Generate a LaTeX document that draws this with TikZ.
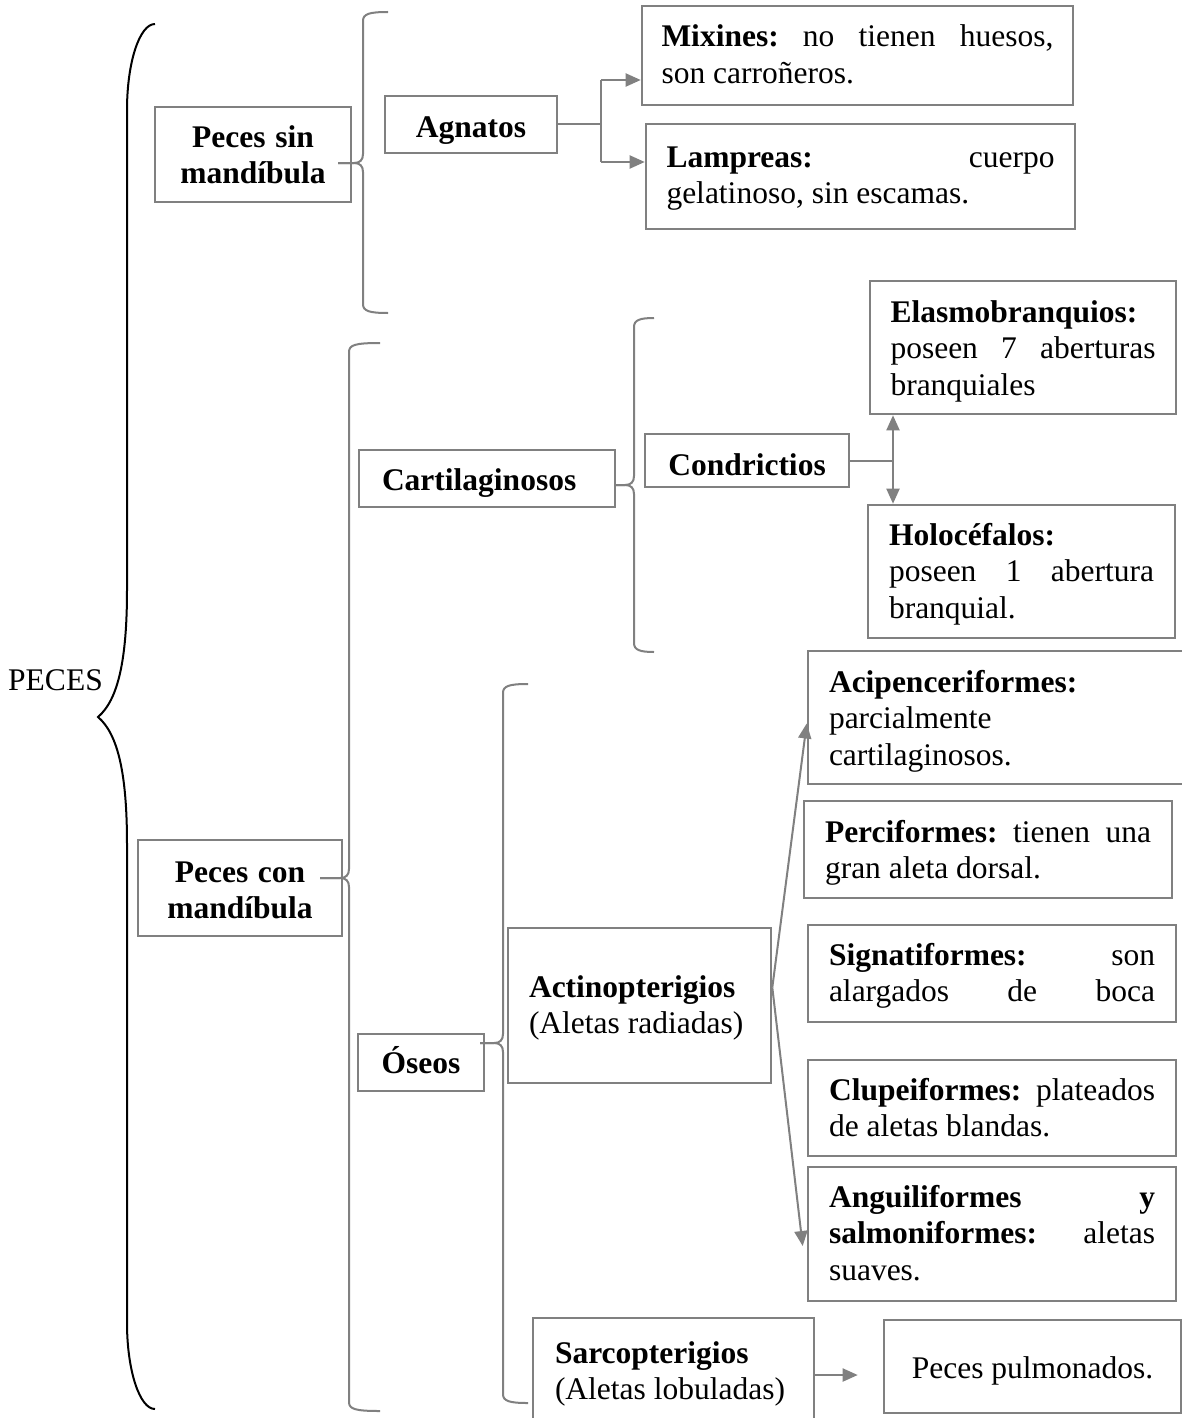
\documentclass[tikz,border=0pt]{standalone}
\usepackage{fontspec}
\setmainfont{Liberation Serif}
\usetikzlibrary{arrows.meta,calc}
\definecolor{edge}{gray}{0.5}
\newcommand{\diagfont}{\fontsize{31.5pt}{36.5pt}\selectfont}
% a justified line: spread to the full text width
\newcommand{\jl}[1]{\makebox[\hsize][s]{\spaceskip=0pt\xspaceskip=0pt #1}}
% grey curly bracket: end x, top y, spine x, tip x, tip y, bottom y
\newcommand{\gbrace}[6]{%
  \draw[brc] (#1,#2) .. controls ({#3+6},#2) and (#3,{#2+2}) .. (#3,{#2+9})
    -- (#3,{#5-9}) .. controls (#3,{#5-3}) and ({#3-3},#5) .. ({#3-9},#5) -- (#4,#5);
  \draw[brc] (#4,#5) -- ({#3-9},#5) .. controls ({#3-3},#5) and (#3,{#5+3}) .. (#3,{#5+9})
    -- (#3,{#6-9}) .. controls (#3,{#6-2}) and ({#3+6},#6) .. (#1,#6);
}
\begin{document}
\frenchspacing
\begin{tikzpicture}[x=1pt,y=-1pt,
  box/.style={draw=edge, line width=2.6pt, rectangle, inner sep=0pt, font=\diagfont,
    execute at begin node={\spaceskip=0pt\xspaceskip=0pt}},
  conn/.style={draw=edge, line width=2pt},
  tip/.style={-{Triangle[length=15pt,width=13pt]}},
  dtip/.style={{Triangle[length=15pt,width=13pt]}-{Triangle[length=15pt,width=13pt]}},
  brc/.style={draw=edge, line width=2pt},
]
\clip (0,0) rectangle (1182,1418);
\fill[white] (0,0) rectangle (1182,1418);

% ---------- title and main bracket ----------
\node[font=\diagfont, inner sep=0pt, anchor=base] (peces) at (55.5,690) {PECES};
\draw[black, line width=2pt] (155,24) .. controls (139.5,24) and (127,62.5) .. (127,110)
  -- (127,590) .. controls (127,660) and (118,700) .. (98,717)
  .. controls (118,734) and (127,774) .. (127,844)
  -- (127,1323) .. controls (127,1370) and (139.5,1409) .. (155,1409);

% ---------- jawless fish ----------
\node[box, minimum width=196pt, text width=180pt, text height=40pt, text depth=55pt, align=center] (sinmand) at (253,154.5)
  {\textbf{Peces sin}\\\textbf{mandíbula}};
\node[box, minimum width=172pt, text height=41pt, text depth=16pt] (agnatos) at (471,124.5) {\textbf{Agnatos}};
\node[box, minimum width=431pt, text width=392pt, text height=41pt, text depth=58pt, align=left] (mixines) at (857.5,55.5)
  {\jl{\textbf{Mixines:} no tienen huesos,}\\son carroñeros.};
\node[box, minimum width=429pt, text width=388pt, text height=43pt, text depth=62pt, align=left] (lampreas) at (860.5,176.5)
  {\jl{\textbf{Lampreas:} cuerpo}\\gelatinoso, sin escamas.};

% ---------- jawed fish ----------
\node[box, minimum width=204pt, text width=188pt, text height=42pt, text depth=54pt, align=center] (conmand) at (240,888)
  {\textbf{Peces con}\\\textbf{mandíbula}};

% cartilaginous
\node[box, minimum width=256pt, text width=210pt, text height=40pt, text depth=17pt, align=left] (cartil) at (487,478.5)
  {\textbf{Cartilaginosos}};
\node[box, minimum width=204pt, text height=41pt, text depth=12pt] (condr) at (747,460.5) {\textbf{Condrictios}};
\node[box, minimum width=306pt, text width=265pt, text height=41pt, text depth=92pt, align=left] (elasmo) at (1023,347.5)
  {\textbf{Elasmobranquios:}\\\jl{poseen 7 aberturas}\\branquiales};
\node[box, minimum width=307pt, text width=265pt, text height=40pt, text depth=93pt, align=left] (holo) at (1021.5,571.5)
  {\textbf{Holocéfalos:}\\\jl{poseen 1 abertura}\\branquial.};

% bony
\node[box, minimum width=126pt, text height=39pt, text depth=18pt] (oseos) at (421,1062.5) {\textbf{Óseos}};
\node[box, minimum width=263pt, text width=221pt, text height=69pt, text depth=86pt, align=left] (actino) at (639.5,1005.5)
  {\textbf{Actinopterigios}\\(Aletas radiadas)};
\node[box, minimum width=382pt, text width=340pt, text height=41pt, text depth=92pt, align=left] (acip) at (999,717.5)
  {\textbf{Acipenceriformes:}\\parcialmente\\cartilaginosos.};
\node[box, minimum width=368pt, text width=326pt, text height=41pt, text depth=56pt, align=left] (perci) at (988,849.5)
  {\jl{\textbf{Perciformes:} tienen una}\\gran aleta dorsal.};
\node[box, minimum width=368pt, text width=326pt, text height=40pt, text depth=57pt, align=left] (signa) at (992,973.5)
  {\jl{\textbf{Signatiformes:} son}\\\jl{alargados de boca}};
\node[box, minimum width=368pt, text width=326pt, text height=40pt, text depth=56pt, align=left] (clupe) at (992,1108)
  {\jl{\textbf{Clupeiformes:} plateados}\\de aletas blandas.};
\node[box, minimum width=368pt, text width=326pt, text height=40pt, text depth=94pt, align=left] (angui) at (992,1234)
  {\jl{\textbf{Anguiliformes y}}\\\jl{\textbf{salmoniformes:} aletas}\\suaves.};
\node[box, minimum width=281pt, text width=237pt, text height=45pt, text depth=69pt, align=left] (sarco) at (673.5,1375)
  {\textbf{Sarcopterigios}\\(Aletas lobuladas)};
\node[box, minimum width=297pt, text height=58pt, text depth=35pt] (pulmo) at (1032.5,1366.5) {Peces pulmonados.};

% ---------- grey brackets ----------
\gbrace{388}{12}{363}{338}{163}{313}
\gbrace{380}{343}{349}{320}{878}{1411}
\gbrace{654}{318}{634}{616}{485}{652}
\gbrace{528}{684}{503}{480}{1043}{1403}

% ---------- connectors ----------
\coordinate (agTop) at (601,80);
\coordinate (agBot) at (601,162);
\draw[conn] (agnatos.east) -- (agnatos.east -| agTop);
\draw[conn] (agTop) -- (agBot);
\draw[conn,tip] (agTop) -- (agTop -| mixines.west);
\draw[conn,tip] (agBot) -- (agBot -| lampreas.west);

\coordinate (cdx) at (893,458);
\draw[conn] (condr.east) -- (condr.east -| cdx);
\draw[conn,dtip] (elasmo.south -| cdx) -- (holo.north -| cdx);

\coordinate (acStart) at ($(actino.east)+(0,-18)$);
\draw[conn,tip] (acStart) -- ($(acip.west)+(0,6)$);
\draw[conn,tip] (acStart) -- ($(angui.west)+(-4,12)$);

\draw[conn,tip,shorten >=25pt] (sarco.east) -- (sarco.east -| pulmo.west);
\end{tikzpicture}
\end{document}
